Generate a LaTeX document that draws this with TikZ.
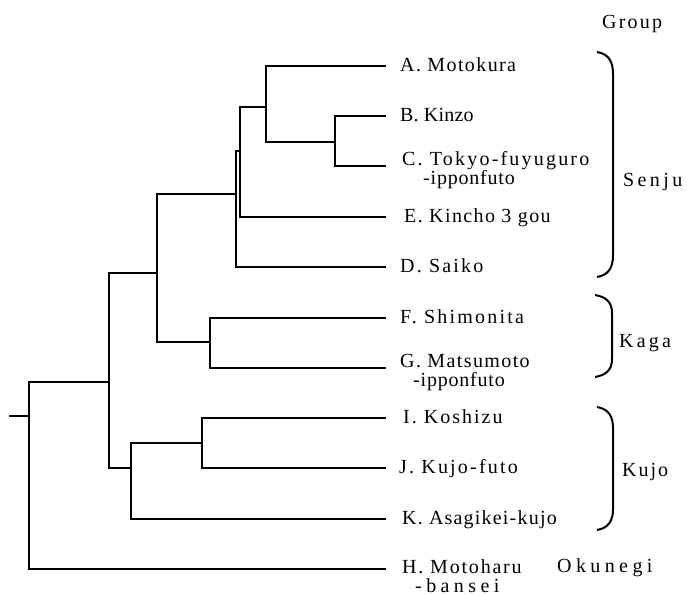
\documentclass[tikz,border=0pt]{standalone}
\usepackage{fontspec}
\setmainfont{Liberation Serif}
\newcommand{\lsp}[1]{\addfontfeature{LetterSpace=#1}}
\newcommand{\lblfont}{\fontsize{20}{19}\selectfont}
\begin{document}
\begin{tikzpicture}[x=1pt,y=-1pt,
  tree/.style={line width=2pt, line cap=rect},
  brk/.style={line width=2pt},
  lbl/.style={anchor=base west, inner sep=0pt, font=\lblfont, align=left}]
\useasboundingbox (0,0) rectangle (687,594);
% leaf ends
\coordinate (lA) at (385,66);
\coordinate (lB) at (385,116);
\coordinate (lC) at (385,166);
\coordinate (lE) at (385,217);
\coordinate (lD) at (385,267);
\coordinate (lF) at (385,318);
\coordinate (lG) at (385,368);
\coordinate (lI) at (385,418);
\coordinate (lJ) at (385,468);
\coordinate (lK) at (385,519);
\coordinate (lH) at (385,569);
% internal nodes
\coordinate (nBC) at (335,142);
\coordinate (nABC) at (266,107);
\coordinate (nABCE) at (240,151);
\coordinate (nSenju) at (236,194);
\coordinate (nKaga) at (210,342);
\coordinate (nSK) at (157,273);
\coordinate (nIJ) at (202,443);
\coordinate (nKujo) at (131,468);
\coordinate (nIn) at (109,382);
\coordinate (root) at (29,416);
\coordinate (stub) at (10,416);
% edges
\draw[tree] (nBC) |- (lB);
\draw[tree] (nBC) |- (lC);
\draw[tree] (nABC) |- (lA);
\draw[tree] (nABC) |- (nBC);
\draw[tree] (nABCE) |- (nABC);
\draw[tree] (nABCE) |- (lE);
\draw[tree] (nSenju) |- (nABCE);
\draw[tree] (nSenju) |- (lD);
\draw[tree] (nKaga) |- (lF);
\draw[tree] (nKaga) |- (lG);
\draw[tree] (nSK) |- (nSenju);
\draw[tree] (nSK) |- (nKaga);
\draw[tree] (nIJ) |- (lI);
\draw[tree] (nIJ) |- (lJ);
\draw[tree] (nKujo) |- (nIJ);
\draw[tree] (nKujo) |- (lK);
\draw[tree] (nIn) |- (nSK);
\draw[tree] (nIn) |- (nKujo);
\draw[tree] (root) |- (nIn);
\draw[tree] (root) |- (lH);
\draw[tree] (stub) -- (root);
% leaf labels
\node[lbl] (tA) at (400,71) {\lsp{7}A. Motokura};
\node[lbl] (tB) at (400,121) {\lsp{1}B. Kinzo};
\node[lbl] (tC) at (402,184) {\lsp{11}C. Tokyo-fuyuguro\\\hspace*{21pt}\lsp{4}-ipponfuto};
\node[lbl] (tE) at (404,222) {\lsp{7}E. Kincho 3 gou};
\node[lbl] (tD) at (400,272) {\lsp{11}D. Saiko};
\node[lbl] (tF) at (400,323) {\lsp{11}F. Shimonita};
\node[lbl] (tG) at (400,386) {\lsp{7}G. Matsumoto\\\hspace*{13pt}\lsp{4}-ipponfuto};
\node[lbl] (tI) at (403,423) {\lsp{10}I. Koshizu};
\node[lbl] (tJ) at (399,473) {\lsp{11}J. Kujo-futo};
\node[lbl] (tK) at (402,524) {\lsp{6}K. Asagikei-kujo};
\node[lbl] (tH) at (402,592) {\lsp{9}H. Motoharu\\\hspace*{13pt}\lsp{22}-bansei};
% group labels
\node[lbl] (grp) at (602,29) {\lsp{11}Group};
\node[lbl] (gS) at (623,186) {\lsp{17}Senju};
\node[lbl] (gK) at (619,347) {\lsp{16}Kaga};
\node[lbl] (gJ) at (622,476) {\lsp{10}Kujo};
\node[lbl] (gO) at (557,572) {\lsp{22}Okunegi};
% brackets
\draw[brk] (597,52) .. controls (609,54) and (613,62) .. (613,74) -- (613,255) .. controls (613,267) and (609,275) .. (597,277);
\draw[brk] (595,295) .. controls (607,297) and (612,303) .. (612,313) -- (612,359) .. controls (612,369) and (607,375) .. (595,377);
\draw[brk] (597,407) .. controls (609,409) and (613,417) .. (613,428) -- (613,509) .. controls (613,520) and (609,528) .. (597,530);
\end{tikzpicture}
\end{document}
